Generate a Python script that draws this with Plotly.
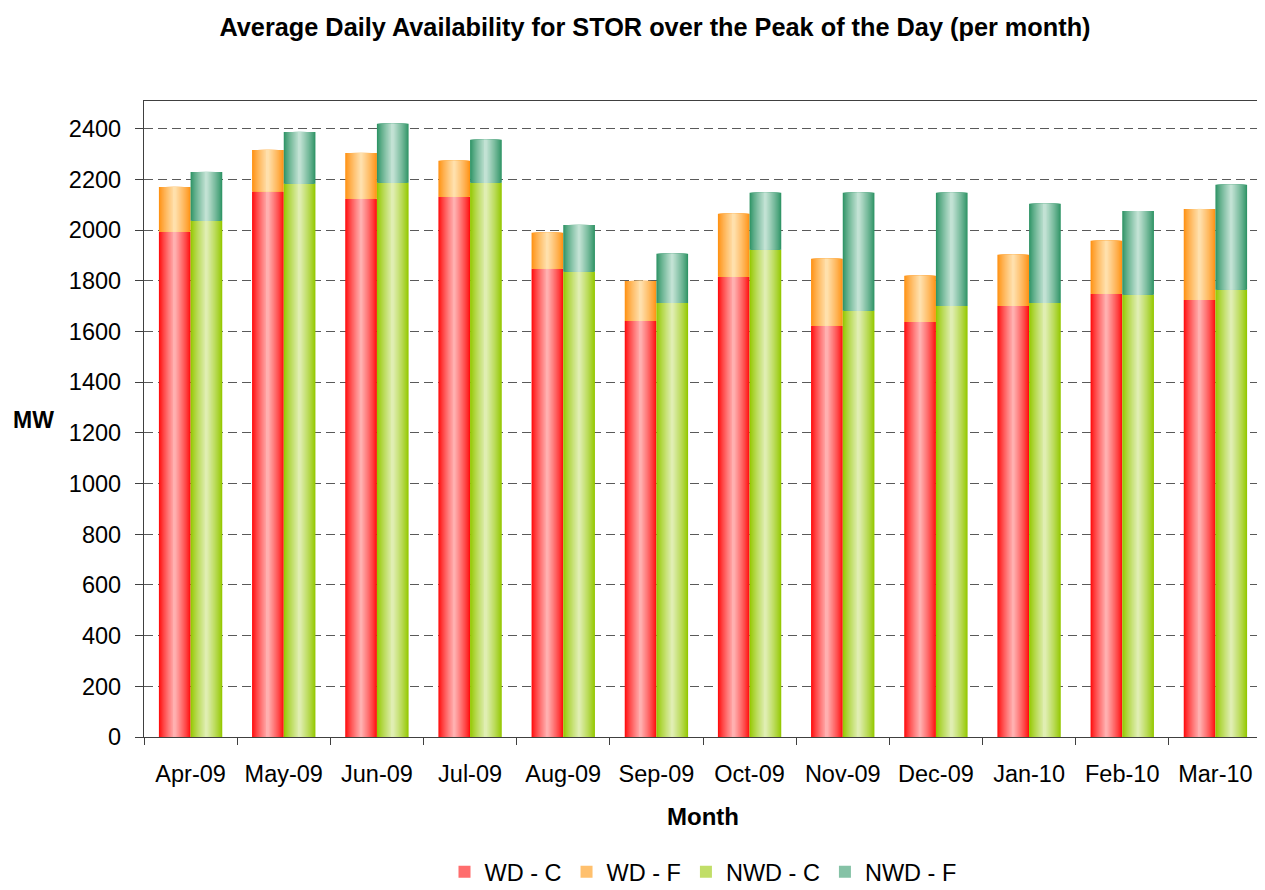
import plotly.graph_objects as go

# ---- data ----
months = ["Apr-09", "May-09", "Jun-09", "Jul-09", "Aug-09", "Sep-09",
          "Oct-09", "Nov-09", "Dec-09", "Jan-10", "Feb-10", "Mar-10"]
wd_c = [1994, 2153, 2124, 2132, 1848, 1642, 1816, 1623, 1638, 1701, 1749, 1725]
wd_f = [177, 164, 181, 142, 142, 158, 249, 264, 182, 202, 209, 359]
nwd_c = [2037, 2183, 2187, 2187, 1836, 1713, 1923, 1682, 1701, 1713, 1745, 1765]
nwd_f = [193, 205, 233, 170, 185, 194, 225, 466, 447, 391, 331, 414]
y_ticks = list(range(0, 2401, 200))

# ---- styling ----
FONT = "Liberation Sans, Arial, Helvetica, sans-serif"
BAR_W = 0.34          # width of one bar, in category units
N_LAYERS = 16         # layers used to fake the horizontal gradient
PAGE_PAD = 8          # default body margin of the html page
W, H = 1265 - PAGE_PAD, 890 - PAGE_PAD


def mix(c1, c2, t):
    a = [int(c1[i:i + 2], 16) for i in (1, 3, 5)]
    b = [int(c2[i:i + 2], 16) for i in (1, 3, 5)]
    r = [round(a[j] + (b[j] - a[j]) * t) for j in range(3)]
    return "rgb({},{},{})".format(*r)


series = [
    # name, values, base, edge colour, centre colour, offset of bar
    ("WD - C", wd_c, None, "#FF0E0E", "#FFB0B0", -BAR_W),
    ("WD - F", wd_f, wd_c, "#FF9214", "#FFE0AC", -BAR_W),
    ("NWD - C", nwd_c, None, "#94C800", "#E0EEB2", 0.0),
    ("NWD - F", nwd_f, nwd_c, "#2F9466", "#C2E2D4", 0.0),
]

fig = go.Figure()
for name, vals, base, edge, centre, off0 in series:
    for k in range(N_LAYERS):
        frac = k / N_LAYERS
        t = (k / (N_LAYERS - 1)) ** 0.85
        fig.add_trace(go.Bar(
            x=months, y=vals, base=base,
            width=BAR_W * (1 - frac),
            offset=off0 + BAR_W * frac / 2,
            marker=dict(color=mix(edge, centre, t), line=dict(width=0)),
            name=name, legendgroup=name,
            showlegend=(k == N_LAYERS // 2),
            hoverinfo="skip" if k else None,
        ))

fig.update_layout(
    width=W, height=H,
    margin=dict(l=144 - PAGE_PAD, r=3, t=101 - PAGE_PAD, b=153, autoexpand=False),
    barmode="overlay",
    paper_bgcolor="white", plot_bgcolor="white",
    font=dict(family=FONT, size=23.5, color="black"),
    title=dict(
        text="<b>Average Daily Availability for STOR over the Peak of the Day (per month)</b>",
        x=(655 - PAGE_PAD) / W, xanchor="center", xref="container",
        y=1 - (27 - PAGE_PAD) / H, yanchor="middle", yref="container",
        font=dict(size=25.3, family=FONT, color="black"),
    ),
    legend=dict(
        orientation="h", x=0.5, xanchor="center", y=-0.2123, yanchor="middle",
        font=dict(size=23.5, family=FONT), traceorder="normal",
        itemwidth=30,
    ),
    annotations=[
        dict(text="<b>MW</b>", xref="paper", yref="paper",
             x=(33 - 144) / 1118, y=(737 - 420) / 636,
             xanchor="center", yanchor="middle", showarrow=False,
             font=dict(size=23, family=FONT)),
        dict(text="<b>Month</b>", xref="paper", yref="paper",
             x=0.5, y=(737 - 816) / 636,
             xanchor="center", yanchor="middle", showarrow=False,
             font=dict(size=24, family=FONT)),
    ],
)

fig.update_xaxes(
    type="category", range=[-0.5, 11.5], automargin=False,
    showline=True, mirror=True, linecolor="#404040", linewidth=1.3,
    ticks="outside", tickson="boundaries", ticklen=7, tickcolor="#404040",
    tickwidth=1, showgrid=False, ticklabelstandoff=16,
    tickfont=dict(size=23.5, family=FONT),
)
fig.update_yaxes(
    range=[0, 2510], tickvals=y_ticks, automargin=False,
    showline=True, mirror=True, linecolor="#404040", linewidth=1.3,
    ticks="outside", ticklen=8, tickcolor="#404040", tickwidth=1,
    showgrid=True, gridcolor="#5a5a5a", gridwidth=1.2, griddash="9px,5px",
    zeroline=False, ticklabelstandoff=9,
    tickfont=dict(size=23.5, family=FONT),
)

fig.write_html("out.html")
